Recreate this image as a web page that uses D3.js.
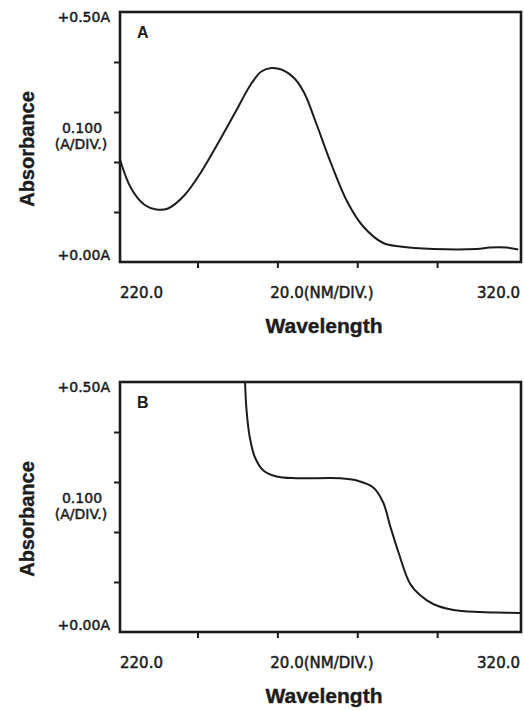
<!DOCTYPE html>
<html>
<head>
<meta charset="utf-8">
<script src="https://cdn.jsdelivr.net/npm/d3@7"></script>
<style>
  html, body { margin: 0; padding: 0; background: #fff; }
  svg { display: block; }
</style>
</head>
<body>
<svg id="chart" width="524" height="711"></svg>
<script>
// Spectrum A (nm, absorbance)
const wavelengthA = [220.6, 223.4, 226.8, 229.7, 232.6, 236.8, 241.0, 245.1, 249.3, 253.5, 256.0, 258.5,
  261.0, 264.3, 266.8, 269.6, 273.5, 277.6, 281.5, 286.5, 290.7, 299.0, 309.9, 313.2, 317.4, 320.3];
const absorbanceA = [0.205, 0.147, 0.114, 0.105, 0.107, 0.134, 0.181, 0.237, 0.297, 0.357, 0.381, 0.388,
  0.385, 0.367, 0.337, 0.280, 0.196, 0.119, 0.071, 0.038, 0.031, 0.026, 0.026, 0.029, 0.029, 0.025];

// Spectrum B (nm, absorbance)
const wavelengthB = [251.9, 252.3, 253.1, 254.4, 256.5, 259.8, 264.8, 275.7, 279.9, 284.0, 286.5, 288.2,
  290.3, 293.2, 295.7, 299.0, 304.1, 310.7, 314.9, 320.8];
const absorbanceB = [0.500, 0.442, 0.389, 0.349, 0.323, 0.311, 0.3075, 0.3075, 0.303, 0.289, 0.259, 0.213,
  0.160, 0.097, 0.074, 0.056, 0.044, 0.040, 0.039, 0.038];

const xTicks = [240, 260, 280, 300];
const yTicks = [0.1, 0.2, 0.3, 0.4];
const xLabels = ['220.0', '20.0(NM/DIV.)', '320.0'];
const yLabels = ['+0.50A', '0.100', '(A/DIV.)', '+0.00A'];
const panelNames = ['A', 'B'];

const ink = '#1c1c1c';
const tickFont = '"DejaVu Sans", sans-serif';
const titleFont = '"Liberation Sans", Arial, sans-serif';

const svg = d3.select('#chart');
svg.append('rect').attr('width', 524).attr('height', 711).attr('fill', '#fff');

const x = d3.scaleLinear().domain([220.6, 321]).range([120, 521]);

function drawPanel(top, name, wavelengths, values) {
  const bottom = top + 250;
  const y = d3.scaleLinear().domain([0, 0.5]).range([bottom, top]);
  const g = svg.append('g').attr('class', 'panel');

  // Clip for the trace
  const clipId = 'clip' + name;
  g.append('clipPath').attr('id', clipId)
    .append('rect')
    .attr('x', x.range()[0]).attr('y', top)
    .attr('width', x.range()[1] - x.range()[0]).attr('height', bottom - top);

  // Tick marks, outside of the frame
  const yAxis = g.append('g')
    .attr('transform', `translate(${x.range()[0]},0)`)
    .call(d3.axisLeft(y).tickValues(yTicks).tickSize(6).tickFormat(''));
  const xAxis = g.append('g')
    .attr('transform', `translate(0,${bottom})`)
    .call(d3.axisBottom(x).tickValues(xTicks).tickSize(6).tickFormat(''));
  [yAxis, xAxis].forEach(a => {
    a.select('.domain').remove();
    a.selectAll('line').attr('stroke', ink).attr('stroke-width', 2);
  });

  // Frame
  g.append('rect')
    .attr('x', x.range()[0]).attr('y', top)
    .attr('width', x.range()[1] - x.range()[0]).attr('height', bottom - top)
    .attr('fill', 'none').attr('stroke', ink).attr('stroke-width', 2.6);

  // Trace
  const pts = wavelengths.map((w, i) => [w, values[i]]);
  const line = d3.line().x(d => x(d[0])).y(d => y(d[1])).curve(d3.curveCatmullRom.alpha(0.5));
  g.append('path')
    .datum(pts)
    .attr('clip-path', `url(#${clipId})`)
    .attr('d', line)
    .attr('fill', 'none').attr('stroke', ink).attr('stroke-width', 2)
    .attr('stroke-linejoin', 'round');

  // Panel letter
  g.append('text')
    .attr('x', 137).attr('y', top + 26)
    .attr('font-family', titleFont).attr('font-weight', 'bold').attr('font-size', 16)
    .attr('fill', ink).text(name);

  // Y scale labels
  const yl = g.append('g')
    .attr('font-family', tickFont).attr('font-size', 14)
    .attr('fill', ink).attr('stroke', ink).attr('stroke-width', 0.5);
  yl.append('text').attr('x', 110).attr('y', y(0.5) + 10).attr('text-anchor', 'end').text(yLabels[0]);
  yl.append('text').attr('x', 82).attr('y', y(0.25) - 4).attr('text-anchor', 'middle').text(yLabels[1]);
  yl.append('text').attr('x', 81).attr('y', y(0.25) + 12).attr('text-anchor', 'middle').text(yLabels[2]);
  yl.append('text').attr('x', 110).attr('y', y(0) - 2).attr('text-anchor', 'end').text(yLabels[3]);

  // X scale labels
  const xl = g.append('g')
    .attr('font-family', tickFont).attr('font-size', 15)
    .attr('fill', ink).attr('stroke', ink).attr('stroke-width', 0.5);
  xl.append('text').attr('x', 120).attr('y', bottom + 36).attr('text-anchor', 'start').text(xLabels[0]);
  xl.append('text').attr('x', 322).attr('y', bottom + 36).attr('text-anchor', 'middle').text(xLabels[1]);
  xl.append('text').attr('x', 520).attr('y', bottom + 36).attr('text-anchor', 'end').text(xLabels[2]);

  // Axis titles
  g.append('text')
    .attr('transform', `translate(34,${(top + bottom) / 2 + 12}) rotate(-90)`)
    .attr('text-anchor', 'middle')
    .attr('font-family', titleFont).attr('font-weight', 'bold').attr('font-size', 20)
    .attr('fill', ink).attr('stroke', ink).attr('stroke-width', 0.4)
    .text('Absorbance');
  g.append('text')
    .attr('x', 324).attr('y', bottom + 71)
    .attr('text-anchor', 'middle')
    .attr('font-family', titleFont).attr('font-weight', 'bold').attr('font-size', 21)
    .attr('fill', ink).attr('stroke', ink).attr('stroke-width', 0.4)
    .text('Wavelength');
}

drawPanel(12, panelNames[0], wavelengthA, absorbanceA);
drawPanel(382, panelNames[1], wavelengthB, absorbanceB);
</script>
</body>
</html>
